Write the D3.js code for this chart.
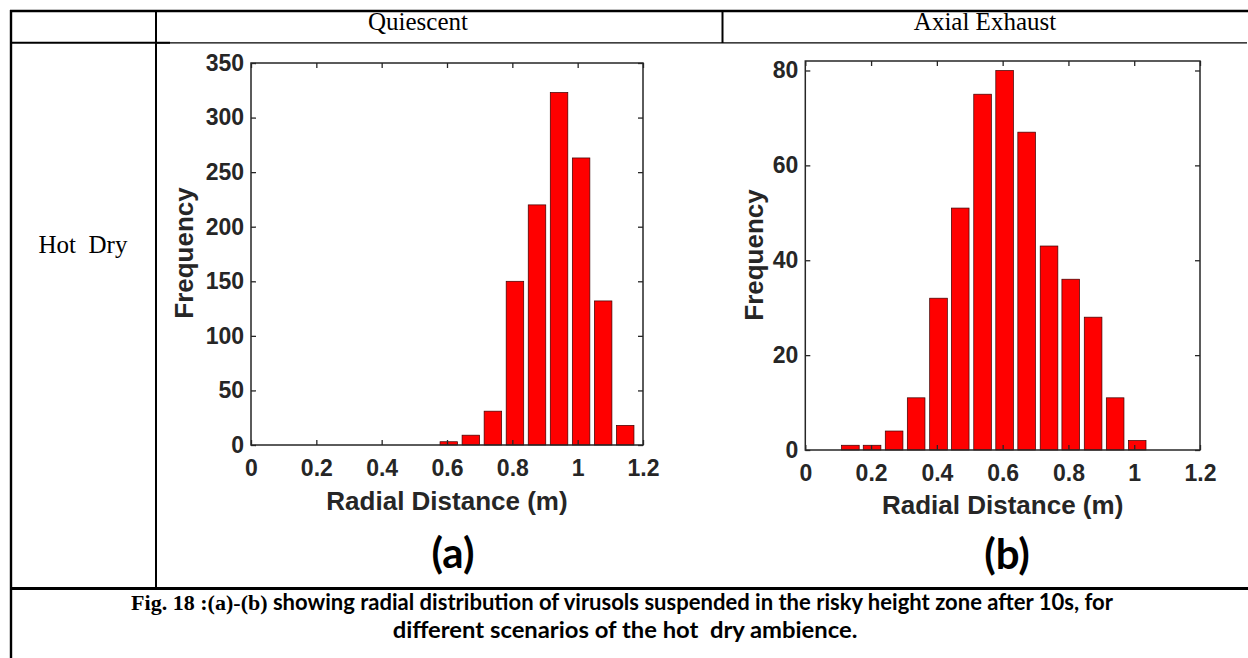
<!DOCTYPE html>
<html>
<head>
<meta charset="utf-8">
<script src="https://cdn.jsdelivr.net/npm/d3@7"></script>
<style>
  html, body { margin: 0; padding: 0; background: #fff; overflow: hidden; }
  svg { display: block; }
</style>
</head>
<body>
<svg id="fig" width="1248" height="658"></svg>
<script>
// ---- data ----
const rowLabels = ["Hot  Dry"];
const columnLabels = ["Quiescent", "Axial Exhaust"];
const panelTags = ["(a)", "(b)"];

const xTickValues = [0, 0.2, 0.4, 0.6, 0.8, 1, 1.2];

// (a) quiescent: bin centres (m) and counts
const quiescentCenters = [0.6055, 0.673, 0.7405, 0.808, 0.8755, 0.943, 1.0105, 1.078, 1.1455];
const quiescentCounts  = [3, 9, 31, 150, 220, 323, 263, 132, 18];
const quiescentYTicks  = [0, 50, 100, 150, 200, 250, 300, 350];

// (b) axial exhaust: bin centres (m) and counts
const exhaustCenters = [0.137, 0.203, 0.270, 0.337, 0.405, 0.471, 0.539, 0.606, 0.673, 0.741, 0.807, 0.875, 0.942, 1.009];
const exhaustCounts  = [1, 1, 4, 11, 32, 51, 75, 80, 67, 43, 36, 28, 11, 2];
const exhaustYTicks  = [0, 20, 40, 60, 80];

const binWidth = 0.0671;
const xLabel = "Radial Distance (m)";
const yLabel = "Frequency";

const captionLead = "Fig. 18 :(a)-(b)";
const captionRest = " showing radial distribution of virusols suspended in the risky height zone after 10s, for";
const captionLine2 = "different scenarios of the hot  dry ambience.";

// ---- drawing ----
const svg = d3.select("#fig");
svg.append("rect").attr("width", 1248).attr("height", 658).attr("fill", "#fff");

const ink = "#262626";
const sans = "'Liberation Sans', Arial, sans-serif";
const serif = "'Liberation Serif', 'Times New Roman', serif";
const captionSans = "Lato, 'Open Sans', sans-serif";

// table rules
const rules = svg.append("g").attr("stroke", "#000").attr("fill", "none");
rules.append("line").attr("x1", 10).attr("x2", 1248).attr("y1", 11).attr("y2", 11).attr("stroke-width", 2.4);
rules.append("line").attr("x1", 11).attr("x2", 11).attr("y1", 10).attr("y2", 658).attr("stroke-width", 2.4);
rules.append("line").attr("x1", 156).attr("x2", 156).attr("y1", 10).attr("y2", 588).attr("stroke-width", 2);
rules.append("line").attr("x1", 722.5).attr("x2", 722.5).attr("y1", 11).attr("y2", 43).attr("stroke-width", 2);
rules.append("line").attr("x1", 11).attr("x2", 170).attr("y1", 42.8).attr("y2", 42.8).attr("stroke-width", 2);
rules.append("line").attr("x1", 156).attr("x2", 1247).attr("y1", 42.8).attr("y2", 42.8).attr("stroke-width", 1.3);
rules.append("line").attr("x1", 10).attr("x2", 1248).attr("y1", 588.5).attr("y2", 588.5).attr("stroke-width", 3);

// table headers
const headerX = [418, 985];
columnLabels.forEach((t, i) => {
  svg.append("text").attr("x", headerX[i]).attr("y", 30)
    .attr("text-anchor", "middle").attr("font-family", serif).attr("font-size", 25)
    .attr("fill", "#000").text(t);
});
svg.append("text").attr("x", 83).attr("y", 253)
  .attr("text-anchor", "middle").attr("font-family", serif).attr("font-size", 25)
  .style("white-space", "pre").attr("fill", "#000").text(rowLabels[0]);

function drawHistogram(p) {
  const g = svg.append("g");
  const x = d3.scaleLinear().domain([0, 1.2]).range([p.left, p.right]);
  const y = d3.scaleLinear().domain([0, p.yMax]).range([p.bottom, p.top]);
  const bw = x(binWidth * 0.8) - x(0);

  // bars
  g.append("g").selectAll("rect").data(p.centers.map((c, i) => ({ c, n: p.counts[i] })))
    .join("rect")
    .attr("x", d => x(d.c) - bw / 2)
    .attr("width", bw)
    .attr("y", d => y(d.n))
    .attr("height", d => y(0) - y(d.n))
    .attr("fill", "#ff0000")
    .attr("stroke", "#3a0000")
    .attr("stroke-width", 0.7);

  const fmt = d3.format("~g");
  const styleAxis = sel => {
    sel.select(".domain").remove();
    sel.selectAll("line").attr("stroke", ink).attr("stroke-width", 1.3);
    sel.selectAll("text").attr("fill", ink).attr("font-family", sans)
      .attr("font-weight", "bold").attr("font-size", 23);
  };

  g.append("g").attr("transform", `translate(0,${p.bottom})`)
    .call(d3.axisBottom(x).tickValues(xTickValues).tickFormat(fmt).tickSize(-5).tickPadding(15))
    .call(styleAxis);
  g.append("g").attr("transform", `translate(0,${p.top})`)
    .call(d3.axisTop(x).tickValues(xTickValues).tickFormat("").tickSize(-5))
    .call(styleAxis);
  g.append("g").attr("transform", `translate(${p.left},0)`)
    .call(d3.axisLeft(y).tickValues(p.yTicks).tickFormat(fmt).tickSize(-5).tickPadding(7))
    .call(styleAxis);
  g.append("g").attr("transform", `translate(${p.right},0)`)
    .call(d3.axisRight(y).tickValues(p.yTicks).tickFormat("").tickSize(-5))
    .call(styleAxis);

  // axes box
  g.append("rect").attr("x", p.left).attr("y", p.top)
    .attr("width", p.right - p.left).attr("height", p.bottom - p.top)
    .attr("fill", "none").attr("stroke", ink).attr("stroke-width", 1.5);

  // axis titles
  g.append("text").attr("x", (p.left + p.right) / 2).attr("y", p.xLabelY)
    .attr("text-anchor", "middle").attr("font-family", sans).attr("font-weight", "bold")
    .attr("font-size", 26).attr("fill", ink).text(xLabel);
  g.append("text")
    .attr("transform", `translate(${p.yLabelX},${p.yLabelCY}) rotate(-90)`)
    .attr("text-anchor", "middle").attr("font-family", sans).attr("font-weight", "bold")
    .attr("font-size", 26).attr("fill", ink).text(yLabel);

  // panel tag
  g.append("text").attr("x", p.tagX).attr("y", p.tagY)
    .attr("text-anchor", "middle").attr("font-family", captionSans)
    .attr("font-weight", "bold").attr("font-size", 42).attr("fill", "#000").text(p.tag);
}

drawHistogram({
  centers: quiescentCenters, counts: quiescentCounts, yTicks: quiescentYTicks, yMax: 350,
  left: 251, right: 643, top: 63, bottom: 445,
  xLabelY: 510, yLabelX: 192.5, yLabelCY: 253, tagX: 453, tagY: 568, tag: panelTags[0]
});
drawHistogram({
  centers: exhaustCenters, counts: exhaustCounts, yTicks: exhaustYTicks, yMax: 82,
  left: 805.3, right: 1200, top: 61, bottom: 450,
  xLabelY: 514, yLabelX: 763, yLabelCY: 255, tagX: 1007, tagY: 569, tag: panelTags[1]
});

// caption, squeezed horizontally to its line width
function fitWidth(sel, cx, width) {
  const w = sel.node().getComputedTextLength();
  sel.attr("transform", `translate(${cx},0) scale(${width / w},1) translate(${-cx},0)`);
}
const cap1 = svg.append("text").attr("x", 622).attr("y", 610)
  .attr("text-anchor", "middle").attr("font-size", 22).attr("font-weight", "bold")
  .attr("fill", "#000").style("white-space", "pre");
cap1.append("tspan").attr("font-family", serif).text(captionLead);
cap1.append("tspan").attr("font-family", captionSans).text(captionRest);
fitWidth(cap1, 622, 982);

const cap2 = svg.append("text").attr("x", 625).attr("y", 638)
  .attr("text-anchor", "middle").attr("font-size", 22).attr("font-weight", "bold")
  .attr("font-family", captionSans)
  .attr("fill", "#000").style("white-space", "pre").text(captionLine2);
fitWidth(cap2, 625, 465);
</script>
</body>
</html>
